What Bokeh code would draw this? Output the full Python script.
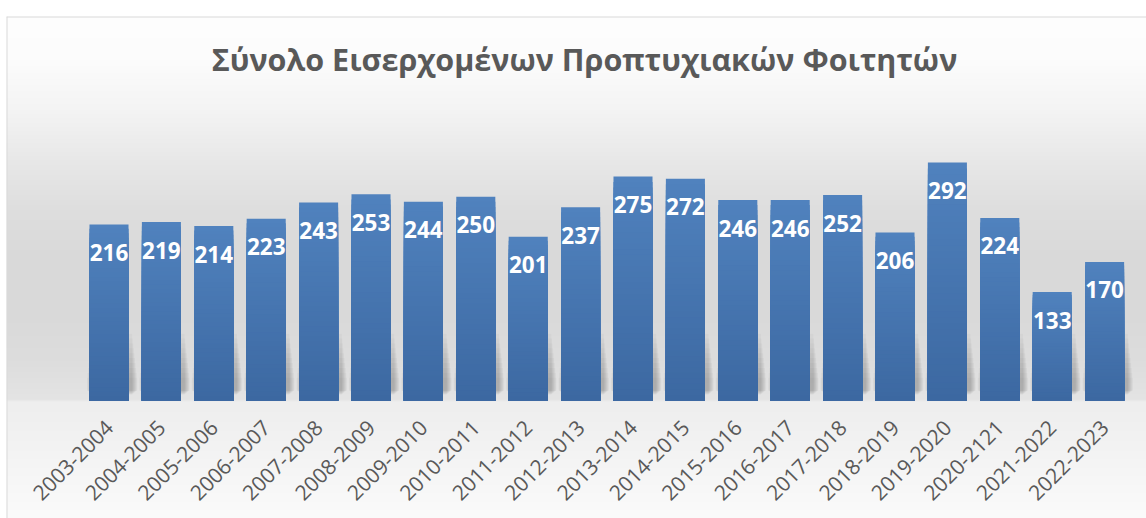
import numpy as np
from bokeh.plotting import figure
from bokeh.models import Range1d, LinearAxis, FixedTicker, Span
from bokeh.core.properties import value
from bokeh.embed import file_html
from bokeh.resources import INLINE

# ---------------- data ----------------
title = "Σύνολο Εισερχομένων Προπτυχιακών Φοιτητών"
years = ["2003-2004", "2004-2005", "2005-2006", "2006-2007", "2007-2008",
         "2008-2009", "2009-2010", "2010-2011", "2011-2012", "2012-2013",
         "2013-2014", "2014-2015", "2015-2016", "2016-2017", "2017-2018",
         "2018-2019", "2019-2020", "2020-2121", "2021-2022", "2022-2023"]
students = [216, 219, 214, 223, 243, 253, 244, 250, 201, 237,
            275, 272, 246, 246, 252, 206, 292, 224, 133, 170]

# ---------------- layout constants (pixels) ----------------
W, H = 1146, 518
LEFT, TOP = 6, 16
BAR0_PX, STEP_PX = 108.5, 52.4
BASE_PX, PX_PER_UNIT = 400.0, 0.815
BAR_W = 0.745

x_start = -(BAR0_PX - LEFT) / STEP_PX
x_end = x_start + (W - LEFT) / STEP_PX
y_end = (BASE_PX - TOP) / PX_PER_UNIT
y_start = -(H - BASE_PX) / PX_PER_UNIT


def px_to_x(px):
    return (px - BAR0_PX) / STEP_PX


def py_to_y(py):
    return (BASE_PX - py) / PX_PER_UNIT


p = figure(width=W, height=H, output_backend="svg", toolbar_location=None,
           x_range=Range1d(x_start, x_end), y_range=Range1d(y_start, y_end),
           x_axis_location=None, y_axis_location=None,
           min_border_left=LEFT, min_border_top=TOP,
           min_border_right=0, min_border_bottom=0,
           border_fill_color="white", background_fill_color="white",
           outline_line_color=None)
p.grid.visible = False

# ---------------- background gradient ----------------
stops_px = [16, 60, 110, 160, 210, 260, 310, 360, 399, 401, 450, 518]
stops_val = [254, 252, 244, 232, 222, 217, 217, 221, 228, 238, 243, 251]
nrows = H - TOP
pix = TOP + np.arange(nrows) + 0.5
g = np.interp(pix, stops_px, stops_val).astype(np.uint8)
img = np.zeros((nrows, 2), dtype=np.uint32)
view = img.view(dtype=np.uint8).reshape((nrows, 2, 4))
for c in range(3):
    view[:, :, c] = g[:, None]
view[:, :, 3] = 255
img = img[::-1].copy()
p.image_rgba(image=[img], x=x_start, y=y_start,
             dw=x_end - x_start, dh=y_end - y_start)

# ---------------- border lines ----------------
p.add_layout(Span(location=x_start, dimension="height",
                  line_color="#d9d9d9", line_width=2))
p.add_layout(Span(location=y_end, dimension="width",
                  line_color="#d9d9d9", line_width=2))

xs = np.arange(len(years))
vals = np.array(students, dtype=float)

# ---------------- soft shadows ----------------
for k in range(10):
    p.vbar(x=xs + 0.06, width=BAR_W + 0.022 * (k + 1), bottom=7 + 0.6 * k,
           top=82 - 6 * k, fill_color="black", fill_alpha=0.022,
           line_color=None)

# ---------------- bars with vertical gradient ----------------
top_rgb = np.array([80, 130, 190])
bot_rgb = np.array([60, 104, 161])
N = 40
for k in range(N - 1, -1, -1):
    t = (k + 0.5) / N
    rgb = bot_rgb + (top_rgb - bot_rgb) * t
    col = "#%02x%02x%02x" % tuple(int(round(v)) for v in rgb)
    p.vbar(x=xs, width=BAR_W, bottom=0, top=vals * (k + 1) / N,
           fill_color=col, line_color=None)

# ---------------- value labels ----------------
p.text(x=xs, y=vals - 28 / PX_PER_UNIT, text=[str(v) for v in students],
       text_align="center", text_baseline="alphabetic",
       text_color="white", text_font=value("Open Sans"),
       text_font_style="bold", text_font_size="22.5px")

# ---------------- title ----------------
p.text(x=[px_to_x(584)], y=[py_to_y(58)], text=[title],
       text_align="center", text_baseline="alphabetic",
       text_color="#595959", text_font=value("Open Sans"),
       text_font_style="bold", text_font_size="30.5px")

# ---------------- category axis ----------------
ax = LinearAxis(fixed_location=0,
                ticker=FixedTicker(ticks=[int(i) for i in xs]),
                major_label_overrides={int(i): y for i, y in enumerate(years)},
                major_label_orientation=np.pi / 4,
                axis_line_color=None, major_tick_line_color=None,
                minor_tick_line_color=None,
                major_label_text_font="Open Sans",
                major_label_text_font_size="21px",
                major_label_text_color="#595959",
                major_label_standoff=17)
p.add_layout(ax, "below")

open("out.html", "w").write(file_html(p, INLINE))
